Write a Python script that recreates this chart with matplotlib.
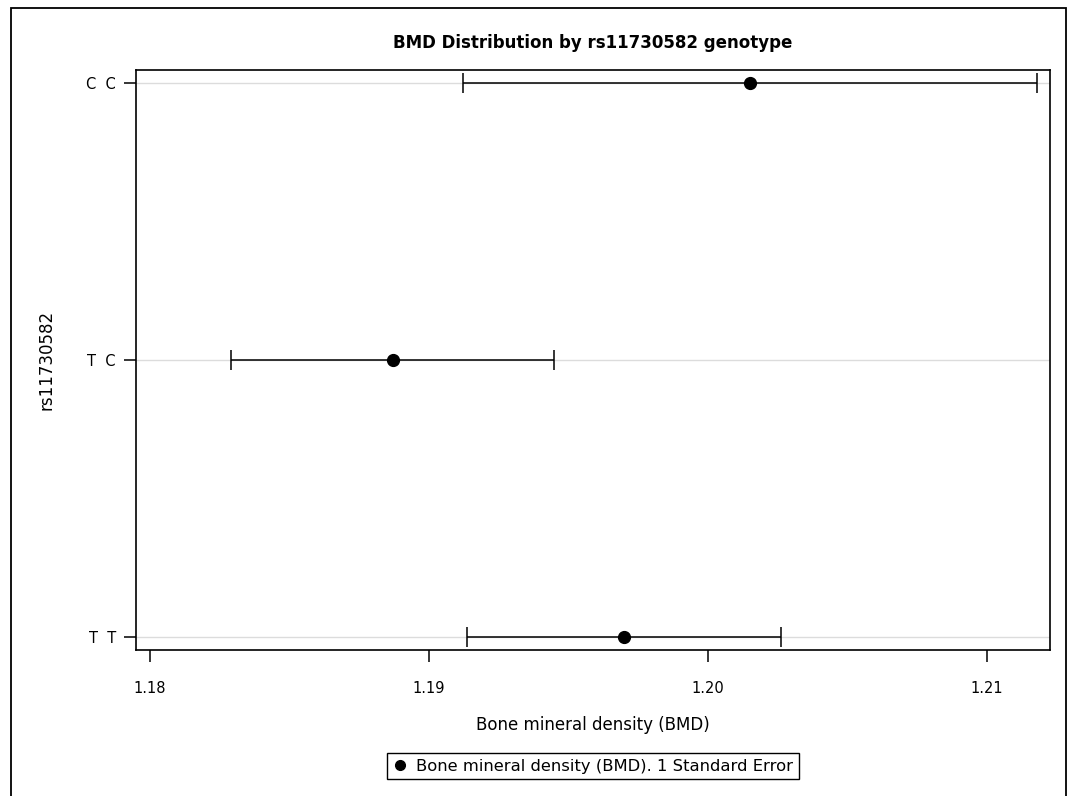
import matplotlib
matplotlib.use("Agg")
import matplotlib.pyplot as plt
from matplotlib.lines import Line2D
from matplotlib.patches import Rectangle

# genotype categories, bottom to top
genotypes = ["T  T", "T  C", "C  C"]
bmd_mean = [1.1970, 1.1887, 1.2015]
bmd_se = [0.00563, 0.00578, 0.01029]

plt.rcParams['font.family'] = ['DejaVu Sans']

fig = plt.figure(figsize=(10.69, 7.96), dpi=100)
W, H = 1069, 796
ax = fig.add_axes([136 / W, 1 - 650 / H, (1050 - 136) / W, (650 - 70) / H])

ypos = list(range(len(genotypes)))
for y in ypos:
    ax.axhline(y, color='#dcdcdc', lw=1.0, zorder=0)

ax.errorbar(bmd_mean, ypos, xerr=bmd_se, fmt='o', color='black',
            ms=8.5, lw=1.1, capsize=7, capthick=1.1, zorder=3)

ax.set_xlim(1.1795, 1.21227)
ax.set_ylim(-0.047, 2.047)
ax.set_xticks([1.18, 1.19, 1.20, 1.21])
ax.set_xticklabels(["1.18", "1.19", "1.20", "1.21"])
ax.set_yticks(ypos)
ax.set_yticklabels(genotypes)
ax.tick_params(axis='both', length=8.5, width=1.1, labelsize=10.5, pad=6)
ax.tick_params(axis='x', pad=14)
for s in ax.spines.values():
    s.set_linewidth(1.2)

ax.set_xlabel("Bone mineral density (BMD)", fontsize=12, labelpad=14)
ax.set_ylabel("rs11730582", fontsize=12, labelpad=22)
ax.set_title("BMD Distribution by rs11730582 genotype", fontsize=12,
             fontweight='bold', pad=16)

handle = Line2D([], [], marker='o', color='black', ls='none', ms=7)
leg = fig.legend([handle], ["Bone mineral density (BMD). 1 Standard Error"],
                 loc='center', bbox_to_anchor=(593 / W, 1 - 766 / H),
                 fancybox=False, framealpha=1, edgecolor='black',
                 fontsize=11.8, handlelength=0.8, handletextpad=0.6,
                 borderpad=0.35)
leg.get_frame().set_linewidth(1.0)

# outer border of the graph
fig.add_artist(Rectangle((11 / W, -0.05), (1066 - 11) / W, 1.05 - 8 / H,
                         transform=fig.transFigure, fill=False,
                         edgecolor='black', lw=1.3))

fig.savefig("out.png", dpi=100)
